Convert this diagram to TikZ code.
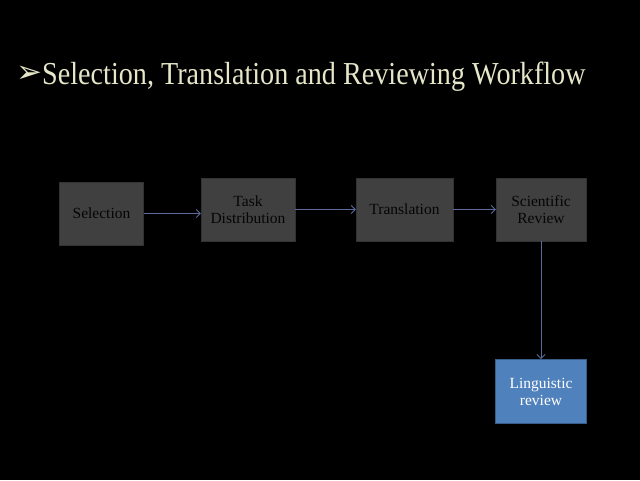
\documentclass[tikz,border=0pt]{standalone}
\usepackage{fontspec}
\setmainfont{Liberation Serif}
\newfontfamily\symfont{DejaVu Sans}
\newfontfamily\titlefont[FakeStretch=0.88]{Liberation Serif}
\usetikzlibrary{arrows.meta,positioning}
\definecolor{boxgray}{HTML}{404040}
\definecolor{boxtext}{HTML}{050505}
\definecolor{linkblue}{HTML}{5A6A9C}
\definecolor{revblue}{HTML}{4F81BD}
\definecolor{revedge}{HTML}{385D8A}
\definecolor{titlecream}{HTML}{E6E6C8}
\tikzset{
    stagebox/.style={rectangle, fill=boxgray, draw=boxgray!80!black, text=boxtext, align=center, font=\fontsize{15.5}{17}\selectfont, inner sep=0pt},
    reviewbox/.style={rectangle, fill=revblue, draw=revedge, thick, text=white, align=center, font=\fontsize{15.5}{17}\selectfont, inner sep=0pt},
    flow/.style={draw=linkblue, line width=0.9pt, -{Straight Barb[length=4pt,width=8pt]}}
}
\begin{document}
\begin{tikzpicture}[x=1pt, y=-1pt]
    \fill[black] (0,0) rectangle (640,480);
    \useasboundingbox (0,0) rectangle (640,480);

    % title
    \node[anchor=base west, text=titlecream, font=\symfont\fontsize{31}{33}\selectfont, inner sep=0pt] (bullet) at (16,82) {➢};
    \node[anchor=base west, text=titlecream, font=\titlefont\fontsize{32}{36}\selectfont, inner sep=0pt] (title) at (42,84) {Selection, Translation and Reviewing Workflow};

    % workflow stages
    \node[stagebox, minimum width=84pt, minimum height=63pt] (select) at (101.5,213.5) {Selection};
    \node[stagebox, minimum width=94pt, minimum height=63pt] (distrib) at (248,209.5) {Task\\Distribution};
    \node[stagebox, minimum width=97pt, minimum height=63pt] (transl) at (404.5,209.5) {Translation};
    \node[stagebox, minimum width=90pt, minimum height=63pt] (scireview) at (541,209.5) {Scientific\\Review};
    \node[reviewbox, minimum width=91pt, minimum height=64pt] (lingreview) at (541,391.5) {Linguistic\\review};

    % connectors
    \draw[flow] (select.east) -- (select.east -| distrib.west);
    \draw[flow] (distrib.east) -- (transl.west);
    \draw[flow] (transl.east) -- (scireview.west);
    \draw[flow] (scireview.south) -- (lingreview.north);
\end{tikzpicture}
\end{document}
